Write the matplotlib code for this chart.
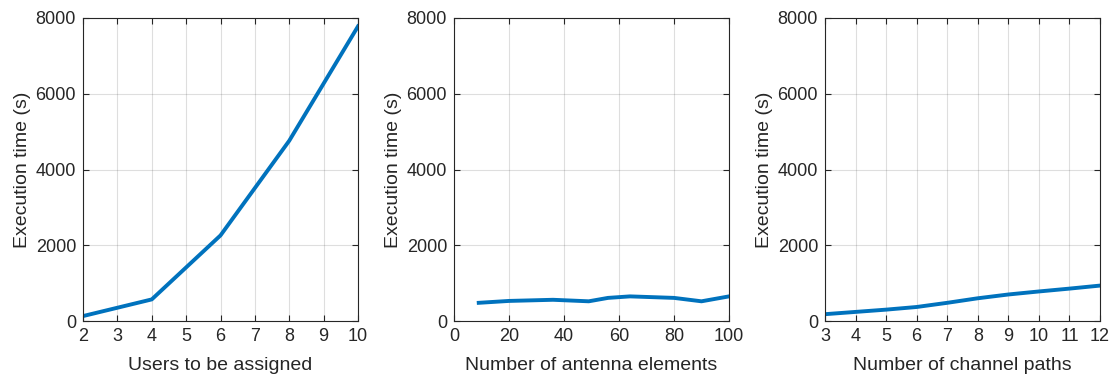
import matplotlib
matplotlib.use('Agg')
import matplotlib.pyplot as plt

plt.rcParams['font.family'] = ['Liberation Sans', 'DejaVu Sans']

# execution time vs. number of users
users = [2, 4, 6, 8, 10]
time_users = [130, 570, 2260, 4760, 7780]

# execution time vs. number of antenna elements
antennas = [9, 20, 36, 49, 56, 64, 80, 90, 100]
time_antennas = [480, 530, 560, 520, 610, 650, 610, 520, 650]

# execution time vs. number of channel paths
paths = [3, 4, 5, 6, 7, 8, 9, 10, 11, 12]
time_paths = [180, 240, 300, 370, 480, 600, 700, 780, 855, 935]

panels = [
    (users, time_users, 'Users to be assigned', (2, 10), range(2, 11)),
    (antennas, time_antennas, 'Number of antenna elements', (0, 100), range(0, 101, 20)),
    (paths, time_paths, 'Number of channel paths', (3, 12), range(3, 13)),
]

fig = plt.figure(figsize=(11.13, 3.78), dpi=100)
lefts = [83 / 1113, 454 / 1113, 825 / 1113]
edge = '#262626'

for left, (x, y, xlabel, xlim, xticks) in zip(lefts, panels):
    ax = fig.add_axes([left, 57 / 378, 275 / 1113, 303 / 378])
    ax.plot(x, y, color='#0072BD', lw=2.8)
    ax.set_xlim(*xlim)
    ax.set_ylim(0, 8000)
    ax.set_xticks(list(xticks))
    ax.set_yticks(range(0, 8001, 2000))
    ax.grid(True, color='#262626', alpha=0.15, lw=0.8)
    ax.tick_params(direction='in', top=True, right=True, labelsize=13,
                   colors=edge, length=4, pad=5)
    for s in ax.spines.values():
        s.set_color(edge)
        s.set_linewidth(0.8)
    ax.set_xlabel(xlabel, fontsize=14, color=edge, labelpad=9)
    ax.set_ylabel('Execution time (s)', fontsize=14, color=edge, labelpad=3)

fig.savefig('out.png', dpi=100)
